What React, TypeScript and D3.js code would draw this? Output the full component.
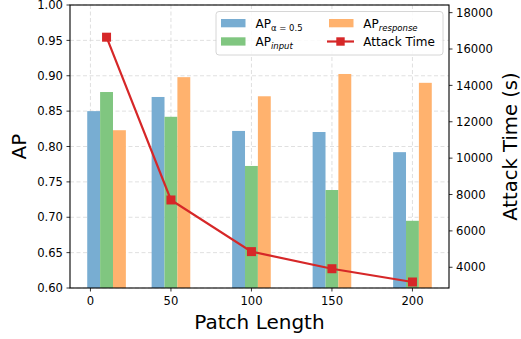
import React from 'react';
import * as d3 from 'd3';

// values
const patchLengths = [10, 50, 100, 150, 200];
const apAlpha = [0.85, 0.87, 0.822, 0.8205, 0.792];
const apInput = [0.877, 0.842, 0.7725, 0.7385, 0.695];
const apResponse = [0.823, 0.898, 0.871, 0.9025, 0.89];
const attackTime = [16650, 7700, 4860, 3920, 3190];

const xTicks = [0, 50, 100, 150, 200];
const apTicks = [0.6, 0.65, 0.7, 0.75, 0.8, 0.85, 0.9, 0.95, 1.0];
const timeTicks = [4000, 6000, 8000, 10000, 12000, 14000, 16000, 18000];

const barSeries = [
  { key: 'alpha', values: apAlpha, color: '#78add2' },
  { key: 'input', values: apInput, color: '#80c680' },
  { key: 'response', values: apResponse, color: '#ffb26e' },
];

const W = 521, H = 339;
const margin = { top: 5, right: 72, bottom: 51, left: 70 };
const FONT = 'DejaVu Sans, sans-serif';
const RED = '#d62728';

export default function App() {
  const x = d3.scaleLinear().domain([-12.7, 222.7]).range([margin.left, W - margin.right]);
  const yAP = d3.scaleLinear().domain([0.6, 1.0]).range([H - margin.bottom, margin.top]);
  const yTime = d3.scaleLinear().domain([2860, 18420]).range([H - margin.bottom, margin.top]);
  const barW = 8;
  const bottom = H - margin.bottom;
  const left = margin.left, right = W - margin.right, top = margin.top;

  const line = d3.line<number>()
    .x((_, i) => x(patchLengths[i]))
    .y((d) => yTime(d));

  const ms = 9;

  return (
    <svg width={W} height={H} style={{ position: 'absolute', left: 0, top: 0, background: '#fff' }}
      fontFamily={FONT}>
      {/* grid */}
      <g stroke="#d8d8d8" strokeWidth={0.8} strokeDasharray="4,2.5">
        {xTicks.map((t) => (
          <line key={`gx-${t}`} x1={x(t)} x2={x(t)} y1={top} y2={bottom} />
        ))}
        {apTicks.map((t) => (
          <line key={`gy-${t}`} x1={left} x2={right} y1={yAP(t)} y2={yAP(t)} />
        ))}
      </g>

      {/* bars */}
      {barSeries.map((s, si) => (
        <g key={s.key} fill={s.color}>
          {s.values.map((v, i) => {
            const x0 = x(patchLengths[i] + (si - 1) * barW - barW / 2);
            const x1 = x(patchLengths[i] + (si - 1) * barW + barW / 2);
            return <rect key={i} x={x0} y={yAP(v)} width={x1 - x0} height={bottom - yAP(v)} />;
          })}
        </g>
      ))}

      {/* attack time line */}
      <path d={line(attackTime) || ''} fill="none" stroke={RED} strokeWidth={2.2} />
      {attackTime.map((v, i) => (
        <rect key={`m-${i}`} x={x(patchLengths[i]) - ms / 2} y={yTime(v) - ms / 2} width={ms} height={ms}
          fill={RED} />
      ))}

      {/* frame */}
      <rect x={left} y={top} width={right - left} height={bottom - top} fill="none" stroke="#000" strokeWidth={1.1} />

      {/* x axis */}
      <g fontSize={11.6} textAnchor="middle" fill="#000">
        {xTicks.map((t) => (
          <g key={`xt-${t}`}>
            <line x1={x(t)} x2={x(t)} y1={bottom} y2={bottom + 3.5} stroke="#000" strokeWidth={0.8} />
            <text x={x(t)} y={bottom + 17}>{t}</text>
          </g>
        ))}
      </g>
      <text x={(left + right) / 2} y={329} fontSize={20} textAnchor="middle">Patch Length</text>

      {/* left axis */}
      <g fontSize={11.6} textAnchor="end">
        {apTicks.map((t) => (
          <g key={`yt-${t}`}>
            <line x1={left - 3.5} x2={left} y1={yAP(t)} y2={yAP(t)} stroke="#000" strokeWidth={0.8} />
            <text x={left - 7} y={yAP(t)} dy="0.36em">{t.toFixed(2)}</text>
          </g>
        ))}
      </g>
      <text transform={`translate(26,${(top + bottom) / 2}) rotate(-90)`} fontSize={20} textAnchor="middle">AP</text>

      {/* right axis */}
      <g fontSize={11.6} textAnchor="start">
        {timeTicks.map((t) => (
          <g key={`rt-${t}`}>
            <line x1={right} x2={right + 3.5} y1={yTime(t)} y2={yTime(t)} stroke="#000" strokeWidth={0.8} />
            <text x={right + 7} y={yTime(t)} dy="0.36em">{t}</text>
          </g>
        ))}
      </g>
      <text transform={`translate(516.5,${(top + bottom) / 2}) rotate(-90)`} fontSize={19.6} textAnchor="middle">
        Attack Time (s)
      </text>

      {/* legend */}
      <g fontSize={12}>
        <rect x={216} y={11.5} width={227} height={43.5} rx={3} fill="#fff" fillOpacity={0.85} stroke="#cccccc" strokeWidth={0.8} />
        <rect x={221} y={19} width={24.5} height={8.3} fill={barSeries[0].color} />
        <text x={255.5} y={27.5}>
          AP<tspan fontSize={8.5} dy={3}>α = 0.5</tspan>
        </text>
        <rect x={221} y={37.3} width={24.5} height={8.3} fill={barSeries[1].color} />
        <text x={255.5} y={45.8}>
          AP<tspan fontSize={8.5} dy={3} fontStyle="italic">input</tspan>
        </text>
        <rect x={329} y={19} width={24.5} height={8.3} fill={barSeries[2].color} />
        <text x={363.3} y={27.5}>
          AP<tspan fontSize={8.5} dy={3} fontStyle="italic">response</tspan>
        </text>
        <line x1={327} x2={354} y1={41.5} y2={41.5} stroke={RED} strokeWidth={2.2} />
        <rect x={340.5 - 4.2} y={41.5 - 4.2} width={8.4} height={8.4} fill={RED} />
        <text x={363.3} y={45.8}>Attack Time</text>
      </g>
    </svg>
  );
}
